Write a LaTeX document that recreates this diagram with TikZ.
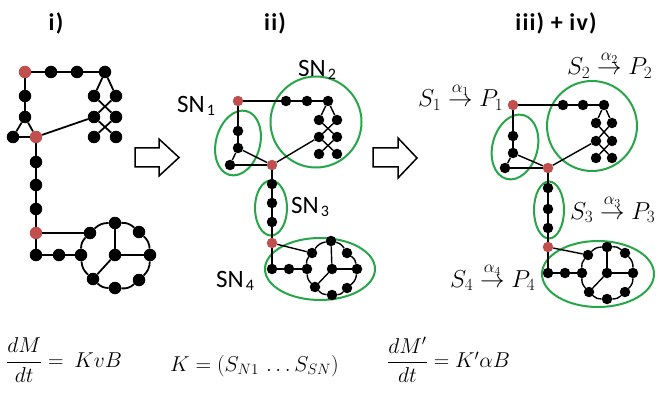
\RequirePackage{fix-cm}
\documentclass[tikz,border=0pt]{standalone}
\usepackage{amsmath}
\usepackage{fontspec}
\setmainfont{Carlito}
\newfontfamily\titlefont[LetterSpace=5]{Carlito}
\definecolor{mygreen}{RGB}{38,166,72}
\definecolor{myred}{RGB}{192,80,77}
\newcommand{\snsub}[1]{\kern2pt\raisebox{-3pt}{\fontsize{16}{16}\selectfont #1}}
\begin{document}
\begin{tikzpicture}[x=1pt,y=-1pt,
  n1/.style={circle,fill=black,inner sep=0pt,minimum size=12.5pt},
  r1/.style={n1,fill=myred},
  n2/.style={circle,fill=black,inner sep=0pt,minimum size=10.5pt},
  r2/.style={n2,fill=myred},
  e1/.style={line width=1.8pt},
  e2/.style={line width=1.4pt},
  grp/.style={draw=mygreen,line width=2pt},
  lab/.style={font=\fontsize{25}{28}\selectfont,inner sep=0pt},
  mlab/.style={font=\fontsize{24.5}{28}\selectfont,inner sep=0pt},
  eqn/.style={font=\fontsize{21.5}{26}\selectfont,inner sep=0pt},
  ttl/.style={font=\titlefont\bfseries\fontsize{24}{28}\selectfont,inner sep=0pt},
  blk/.style={draw=black,line width=1.5pt,fill=white,line join=miter}
]
\useasboundingbox (0,0) rectangle (664,401);

% titles
\node[ttl] (t1) at (56,23) {i)};
\node[ttl] (t2) at (275,23) {ii)};
\node[ttl] (t3) at (556,23) {iii) + iv)};

% block arrows
\draw[blk] (135,148) -- (159,148) -- (159,139) -- (179,157.5) -- (159,176) -- (159,167) -- (135,167) -- cycle;
\draw[blk] (373,148) -- (398,148) -- (398,138) -- (417,158) -- (398,178) -- (398,167) -- (373,167) -- cycle;

% ===== panel i =====
\node[r1] (a1) at (25,72) {};
\node[n1] (a2) at (51,72) {};
\node[n1] (a3) at (77,72) {};
\node[n1] (a4) at (105,72) {};
\node[n1] (a5) at (94,96) {};
\node[n1] (a6) at (116,96) {};
\node[n1] (a7) at (94,117) {};
\node[n1] (a8) at (116,117) {};
\node[n1] (a9) at (94,137) {};
\node[n1] (a10) at (116,137) {};
\node[n1] (a11) at (25,96) {};
\node[n1] (a12) at (25,117) {};
\node[n1] (a13) at (13,137) {};
\node[r1] (a14) at (36,137) {};
\node[n1] (a15) at (36,162) {};
\node[n1] (a16) at (36,185) {};
\node[n1] (a17) at (36,209) {};
\node[r1] (a18) at (36,233) {};
\node[n1] (a19) at (36,255) {};
\node[n1] (a20) at (59,255) {};
\node[n1] (a21) at (81,255) {};
\node[n1] (a22) at (90,233) {};
\node[n1] (a23) at (115,223) {};
\node[n1] (a24) at (139,232) {};
\node[n1] (a25) at (150,255) {};
\node[n1] (a26) at (139,280) {};
\node[n1] (a27) at (115,288) {};
\node[n1] (a28) at (93,279) {};
\node[n1] (a29) at (115,255) {};
\draw[e1] (a1) -- (a2) -- (a3) -- (a4);
\draw[e1] (a4) -- (a5); \draw[e1] (a4) -- (a6);
\draw[e1] (a5) -- (a8); \draw[e1] (a6) -- (a7);
\draw[e1] (a7) -- (a10); \draw[e1] (a8) -- (a9);
\draw[e1] (a1) -- (a11) -- (a12);
\draw[e1] (a12) -- (a13); \draw[e1] (a12) -- (a14); \draw[e1] (a13) -- (a14);
\draw[e1] (a14) -- (a7);
\draw[e1] (a14) -- (a15) -- (a16) -- (a17) -- (a18);
\draw[e1] (a18) -- (a22);
\draw[e1] (a18) -- (a19) -- (a20) -- (a21);
\draw[e1] (a21) to[bend left=22] (a22);
\draw[e1] (a22) to[bend left=22] (a23);
\draw[e1] (a23) to[bend left=22] (a24);
\draw[e1] (a24) to[bend left=22] (a25);
\draw[e1] (a25) to[bend left=22] (a26);
\draw[e1] (a26) to[bend left=22] (a27);
\draw[e1] (a27) to[bend left=22] (a28);
\draw[e1] (a28) to[bend left=22] (a21);
\draw[e1] (a29) -- (a23); \draw[e1] (a29) -- (a25); \draw[e1] (a29) -- (a28);

% ===== panel ii =====
\draw[grp, rotate around={-15:(238,143)}] (238,143) ellipse (22pt and 33pt);
\draw[grp] (316,122) circle (45.5pt);
\draw[grp] (271,208) ellipse (16pt and 27.5pt);
\draw[grp] (320,269) ellipse (55pt and 31pt);
\node[r2] (b1) at (238,101) {};
\node[n2] (b2) at (286,101) {};
\node[n2] (b3) at (307,101) {};
\node[n2] (b4) at (328,101) {};
\node[n2] (b5) at (319,120) {};
\node[n2] (b6) at (337,120) {};
\node[n2] (b7) at (319,137) {};
\node[n2] (b8) at (337,137) {};
\node[n2] (b9) at (319,154) {};
\node[n2] (b10) at (337,154) {};
\node[n2] (b11) at (238,131) {};
\node[n2] (b12) at (238,148) {};
\node[n2] (b13) at (230,165) {};
\node[r2] (b14) at (272,165) {};
\node[n2] (b15) at (272,184) {};
\node[n2] (b16) at (272,203) {};
\node[n2] (b17) at (272,222) {};
\node[r2] (b18) at (272,243) {};
\node[n2] (b19) at (272,269) {};
\node[n2] (b20) at (289,269) {};
\node[n2] (b21) at (307,269) {};
\node[n2] (b22) at (312,253) {};
\node[n2] (b23) at (331,241) {};
\node[n2] (b24) at (347,253) {};
\node[n2] (b25) at (357,269) {};
\node[n2] (b26) at (347,288) {};
\node[n2] (b27) at (332,295) {};
\node[n2] (b28) at (315,287) {};
\node[n2] (b29) at (332,269) {};
\draw[e2] (b1) -- (b2) -- (b3) -- (b4);
\draw[e2] (b4) -- (b5); \draw[e2] (b4) -- (b6);
\draw[e2] (b5) -- (b8); \draw[e2] (b6) -- (b7);
\draw[e2] (b7) -- (b10); \draw[e2] (b8) -- (b9);
\draw[e2] (b1) -- (b11) -- (b12);
\draw[e2] (b12) -- (b13); \draw[e2] (b12) -- (b14); \draw[e2] (b13) -- (b14);
\draw[e2] (b14) -- (b7);
\draw[e2] (b14) -- (b15) -- (b16) -- (b17) -- (b18);
\draw[e2] (b18) -- (b22);
\draw[e2] (b18) -- (b19) -- (b20) -- (b21);
\draw[e2] (b21) to[bend left=22] (b22);
\draw[e2] (b22) to[bend left=22] (b23);
\draw[e2] (b23) to[bend left=22] (b24);
\draw[e2] (b24) to[bend left=22] (b25);
\draw[e2] (b25) to[bend left=22] (b26);
\draw[e2] (b26) to[bend left=22] (b27);
\draw[e2] (b27) to[bend left=22] (b28);
\draw[e2] (b28) to[bend left=22] (b21);
\draw[e2] (b29) -- (b23); \draw[e2] (b29) -- (b25); \draw[e2] (b29) -- (b28);
\node[lab,anchor=base west] (sn1) at (177,113) {SN\snsub{1}};
\node[lab,anchor=base west] (sn2) at (298,77) {SN\snsub{2}};
\node[lab,anchor=base west] (sn3) at (291,213) {SN\snsub{3}};
\node[lab,anchor=base west] (sn4) at (216,287) {SN\snsub{4}};

% ===== panel iii =====
\draw[grp, rotate around={-15:(515,147)}] (515,147) ellipse (22.5pt and 33pt);
\draw[grp] (592,126) circle (45pt);
\draw[grp] (549,210) ellipse (15pt and 28.5pt);
\draw[grp] (598,274) ellipse (56pt and 33pt);
\node[r2] (c1) at (513,105) {};
\node[n2] (c2) at (563,105) {};
\node[n2] (c3) at (583,105) {};
\node[n2] (c4) at (604,105) {};
\node[n2] (c5) at (596,123) {};
\node[n2] (c6) at (612,123) {};
\node[n2] (c7) at (596,141) {};
\node[n2] (c8) at (612,141) {};
\node[n2] (c9) at (596,158) {};
\node[n2] (c10) at (612,158) {};
\node[n2] (c11) at (513,136) {};
\node[n2] (c12) at (513,153) {};
\node[n2] (c13) at (505,168) {};
\node[r2] (c14) at (548,168) {};
\node[n2] (c15) at (548,188) {};
\node[n2] (c16) at (548,209) {};
\node[n2] (c17) at (548,228) {};
\node[r2] (c18) at (548,247) {};
\node[n2] (c19) at (548,273) {};
\node[n2] (c20) at (565,273) {};
\node[n2] (c21) at (582,273) {};
\node[n2] (c22) at (588,255) {};
\node[n2] (c23) at (607,247) {};
\node[n2] (c24) at (625,253) {};
\node[n2] (c25) at (633,273) {};
\node[n2] (c26) at (625,292) {};
\node[n2] (c27) at (607,299) {};
\node[n2] (c28) at (589,292) {};
\node[n2] (c29) at (607,273) {};
\draw[e2] (c1) -- (c2) -- (c3) -- (c4);
\draw[e2] (c4) -- (c5); \draw[e2] (c4) -- (c6);
\draw[e2] (c5) -- (c8); \draw[e2] (c6) -- (c7);
\draw[e2] (c7) -- (c10); \draw[e2] (c8) -- (c9);
\draw[e2] (c1) -- (c11) -- (c12);
\draw[e2] (c12) -- (c13); \draw[e2] (c12) -- (c14); \draw[e2] (c13) -- (c14);
\draw[e2] (c14) -- (c7);
\draw[e2] (c14) -- (c15) -- (c16) -- (c17) -- (c18);
\draw[e2] (c18) -- (c22);
\draw[e2] (c18) -- (c19) -- (c20) -- (c21);
\draw[e2] (c21) to[bend left=22] (c22);
\draw[e2] (c22) to[bend left=22] (c23);
\draw[e2] (c23) to[bend left=22] (c24);
\draw[e2] (c24) to[bend left=22] (c25);
\draw[e2] (c25) to[bend left=22] (c26);
\draw[e2] (c26) to[bend left=22] (c27);
\draw[e2] (c27) to[bend left=22] (c28);
\draw[e2] (c28) to[bend left=22] (c21);
\draw[e2] (c29) -- (c23); \draw[e2] (c29) -- (c25); \draw[e2] (c29) -- (c28);
\node[mlab,anchor=base west] (s1) at (418,107) {$S_1 \stackrel{\alpha_1}{\rightarrow} P_1$};
\node[mlab,anchor=base west] (s2) at (567,75) {$S_2 \stackrel{\alpha_2}{\rightarrow} P_2$};
\node[mlab,anchor=base west] (s3) at (570,219) {$S_3 \stackrel{\alpha_3}{\rightarrow} P_3$};
\node[mlab,anchor=base west] (s4) at (450,287) {$S_4 \stackrel{\alpha_4}{\rightarrow} P_4$};

% ===== equations =====
\node[eqn,anchor=west] (eq1) at (6,360) {$\dfrac{dM}{dt} =\ KvB$};
\node[eqn,anchor=base west] (eq2) at (170,371) {$K = (S_{N1}\,\ldots S_{SN})$};
\node[eqn,anchor=west] (eq3) at (387,360) {$\dfrac{dM'}{dt} = K'\alpha B$};
\end{tikzpicture}
\end{document}
